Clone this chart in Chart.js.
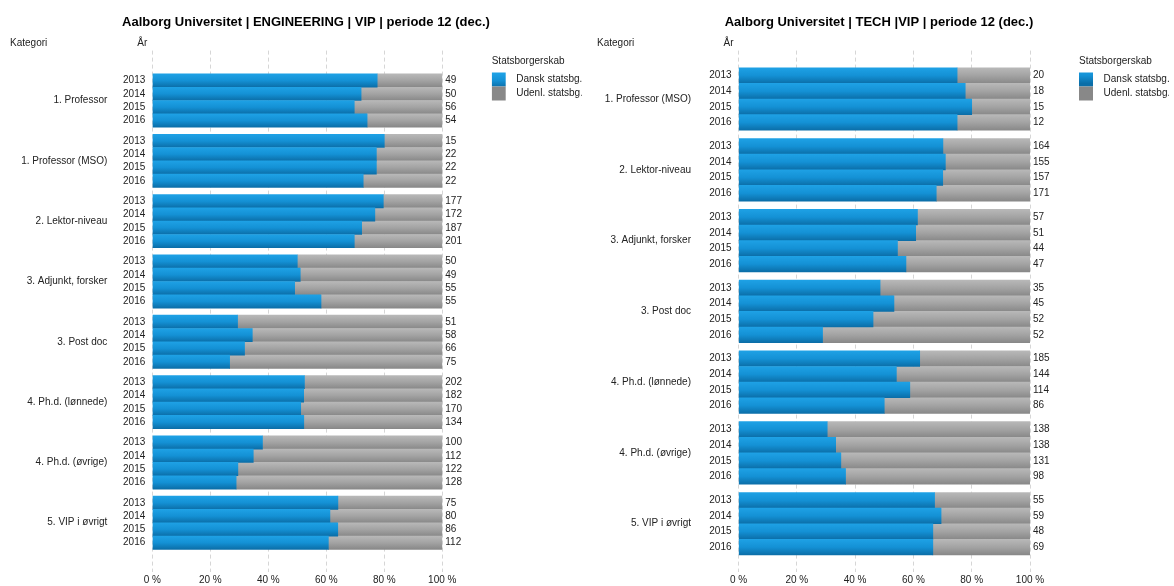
<!DOCTYPE html>
<html lang="da">
<head>
<meta charset="utf-8">
<title>VIP - statsborgerskab</title>
<script src="https://cdn.jsdelivr.net/npm/chart.js@4.4.1/dist/chart.umd.min.js"></script>
<style>
  body { margin: 0; background: #fff; }
  #wrap { position: relative; width: 1174px; height: 586px; }
  canvas { position: absolute; top: 0; }
  #engChart { left: 0; }
  #techChart { left: 587px; }
</style>
</head>
<body>
<div id="wrap">
  <canvas id="engChart" width="612" height="586"></canvas>
  <canvas id="techChart" width="587" height="586"></canvas>
</div>
<script>
const aar = ['2013', '2014', '2015', '2016'];
const serier = ['Dansk statsbg.', 'Udenl. statsbg.'];
const procentTicks = [0, 20, 40, 60, 80, 100];

// ENGINEERING - antal danske og antal i alt pr. kategori, 2013-2016
const engKategorier = ['1. Professor', '1. Professor (MSO)', '2. Lektor-niveau', '3. Adjunkt, forsker',
  '3. Post doc', '4. Ph.d. (lønnede)', '4. Ph.d. (øvrige)', '5. VIP i øvrigt'];
const engDansk = [38, 36, 39, 40, 12, 17, 17, 16, 141, 132, 135, 140, 25, 25, 27, 32,
  15, 20, 21, 20, 106, 95, 87, 70, 38, 39, 36, 37, 48, 49, 55, 68];
const engTotal = [49, 50, 56, 54, 15, 22, 22, 22, 177, 172, 187, 201, 50, 49, 55, 55,
  51, 58, 66, 75, 202, 182, 170, 134, 100, 112, 122, 128, 75, 80, 86, 112];

// TECH
const techKategorier = ['1. Professor (MSO)', '2. Lektor-niveau', '3. Adjunkt, forsker', '3. Post doc',
  '4. Ph.d. (lønnede)', '4. Ph.d. (øvrige)', '5. VIP i øvrigt'];
const techDansk = [15, 14, 12, 9, 115, 110, 110, 116, 35, 31, 24, 27, 17, 24, 24, 15,
  115, 78, 67, 43, 42, 46, 46, 36, 37, 41, 32, 46];
const techTotal = [20, 18, 15, 12, 164, 155, 157, 171, 57, 51, 44, 47, 35, 45, 52, 52,
  185, 144, 114, 86, 138, 138, 131, 98, 55, 59, 48, 69];

// afstand mellem to kategorier, målt i bjælkehøjder (4 år + luft)
const GRUPPE = 4.53;

Chart.defaults.font.family = '"Liberation Sans", Arial, sans-serif';
Chart.defaults.font.size = 10;
Chart.defaults.color = '#222';

const blaa = ['#1ea1e5', '#1491d5', '#0b6ea8'];
const graa = ['#b8b8b8', '#a3a3a3', '#888888'];

// lodret gradient pr. bjælke, lys foroven og mørk forneden
function gradient(farver) {
  return (c) => {
    if (c.type !== 'data' || !c.parsed) return farver[1];
    const chart = c.chart;
    const y = chart.scales.y;
    const mid = y.getPixelForValue(c.parsed.y);
    const half = Math.abs(y.getPixelForValue(c.parsed.y + 0.5) - mid);
    if (!isFinite(mid) || !isFinite(half) || half === 0) return farver[1];
    const g = chart.ctx.createLinearGradient(0, mid - half, 0, mid + half);
    g.addColorStop(0, farver[0]);
    g.addColorStop(0.5, farver[1]);
    g.addColorStop(1, farver[2]);
    return g;
  };
}

// titel og kolonneoverskrifter over akserne
const overskrifter = {
  id: 'overskrifter',
  afterDraw(chart, args, o) {
    const { ctx, chartArea } = chart;
    ctx.save();
    ctx.textBaseline = 'middle';
    ctx.fillStyle = '#000';
    ctx.textAlign = 'center';
    ctx.font = 'bold 13px "Liberation Sans", Arial, sans-serif';
    ctx.fillText(o.titel, o.titelX, 22);
    ctx.font = '10px "Liberation Sans", Arial, sans-serif';
    ctx.fillStyle = '#222';
    ctx.textAlign = 'left';
    ctx.fillText('Kategori', 10, 43);
    ctx.textAlign = 'right';
    ctx.fillText('År', chartArea.left - 5, 43);
    ctx.restore();
  }
};

function tegn(id, titel, kategorier, dansk, total, opt) {
  const raekker = [];
  kategorier.forEach((k, g) => aar.forEach((a, i) => raekker.push(g * GRUPPE + i + 0.5)));
  const grupper = kategorier.map((k, g) => g * GRUPPE + 2);
  const andelDansk = dansk.map((d, i) => d / total[i] * 100);
  const andelUdenl = dansk.map((d, i) => (total[i] - d) / total[i] * 100);

  // fælles lodret skala: samme min/max og ingen offset på alle tre y-akser
  const yAkse = {
    type: 'linear',
    min: -opt.top,
    max: (kategorier.length - 1) * GRUPPE + 4 + opt.bottom,
    reverse: true,
    offset: false,
    grid: { display: false, drawTicks: false },
    border: { display: false }
  };

  new Chart(document.getElementById(id), {
    type: 'bar',
    data: {
      datasets: [
        {
          label: serier[0],
          data: raekker.map((y, i) => ({ x: andelDansk[i], y })),
          backgroundColor: gradient(blaa)
        },
        {
          label: serier[1],
          data: raekker.map((y, i) => ({ x: andelUdenl[i], y })),
          backgroundColor: gradient(graa)
        }
      ]
    },
    options: {
      indexAxis: 'y',
      responsive: false,
      animation: false,
      layout: { padding: { top: 50.6, right: opt.padRight } },
      datasets: { bar: { barPercentage: 1, categoryPercentage: 1, borderWidth: 0 } },
      scales: {
        x: {
          type: 'linear',
          stacked: true,
          min: 0,
          max: 100,
          afterBuildTicks: s => { s.ticks = procentTicks.map(v => ({ value: v })); },
          ticks: { callback: v => v + ' %', padding: 2, color: '#222' },
          grid: { color: '#d6d6d6', drawTicks: false },
          border: { display: false, dash: [4, 3] },
          afterFit: s => { s.height = 14; }
        },
        y: {
          ...yAkse,
          stacked: true,
          weight: 0,
          afterBuildTicks: s => { s.ticks = raekker.map(v => ({ value: v })); },
          ticks: { callback: (v, i) => aar[i % aar.length], padding: 7, autoSkip: false },
          afterFit: s => { s.width = 40; }
        },
        yKat: {
          ...yAkse,
          position: 'left',
          weight: 1,
          afterBuildTicks: s => { s.ticks = grupper.map(v => ({ value: v })); },
          ticks: { callback: (v, i) => kategorier[i], padding: opt.katPad, autoSkip: false },
          afterFit: s => { s.width = opt.katBredde; }
        },
        yTotal: {
          ...yAkse,
          position: 'right',
          afterBuildTicks: s => { s.ticks = raekker.map(v => ({ value: v })); },
          ticks: { callback: (v, i) => total[i], padding: 3, autoSkip: false },
          afterFit: s => { s.width = opt.totBredde; }
        }
      },
      plugins: {
        overskrifter: { titel, titelX: opt.titelX },
        title: { display: false },
        legend: {
          position: 'right',
          align: 'start',
          maxWidth: 90,
          title: {
            display: true,
            text: 'Statsborgerskab',
            position: 'start',
            padding: { top: 6, bottom: 4 },
            font: { size: 10 }
          },
          labels: {
            boxWidth: 14,
            boxHeight: 14,
            padding: 0,
            color: '#222',
            generateLabels: chart => Chart.defaults.plugins.legend.labels.generateLabels(chart)
              .map(l => ({ ...l, text: '  ' + l.text, lineWidth: 0 }))
          }
        },
        tooltip: { enabled: false }
      }
    },
    plugins: [overskrifter]
  });
}

tegn('engChart', 'Aalborg Universitet | ENGINEERING | VIP | periode 12 (dec.)',
  engKategorier, engDansk, engTotal,
  { top: 1.75, bottom: 1.7, katBredde: 112.3, katPad: 5, totBredde: 49.4, padRight: 30.3, titelX: 306 });

tegn('techChart', 'Aalborg Universitet | TECH |VIP | periode 12 (dec.)',
  techKategorier, techDansk, techTotal,
  { top: 1.1, bottom: 1.09, katBredde: 111.5, katPad: 7.5, totBredde: 49, padRight: 5, titelX: 292 });
</script>
</body>
</html>
